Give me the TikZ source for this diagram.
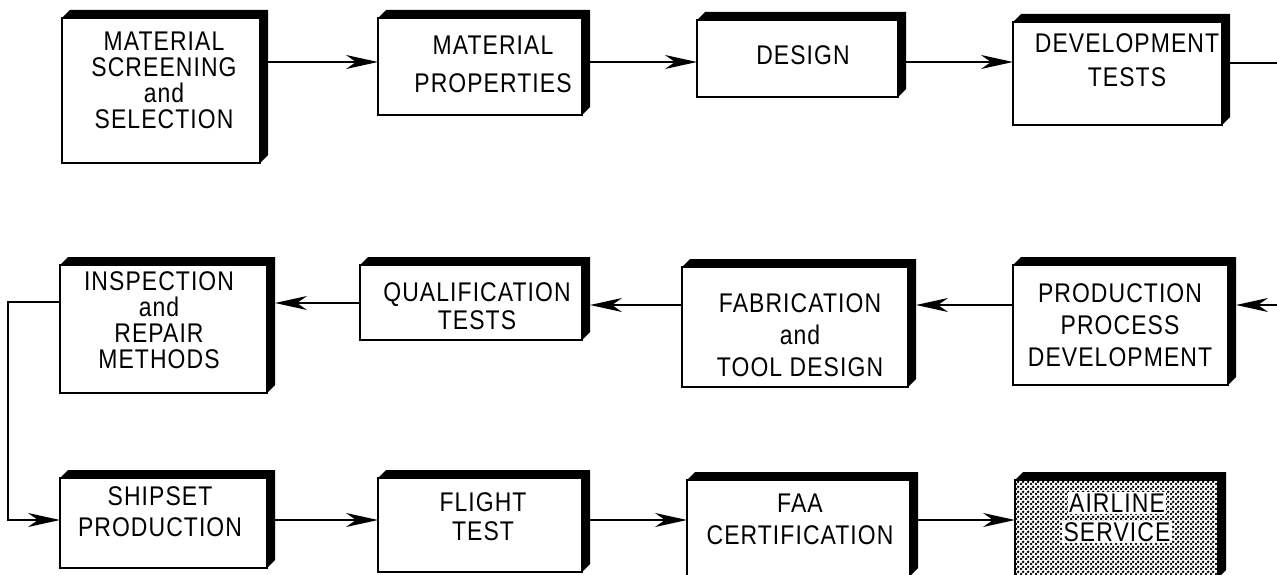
\documentclass[tikz,border=0pt]{standalone}
\usepackage{fontspec}
\setmainfont{Liberation Sans}[FakeStretch=0.85,LetterSpace=4]
\usetikzlibrary{arrows.meta,patterns,calc}
\pgfdeclarepatternformonly{bigdots}{\pgfqpoint{0pt}{0pt}}{\pgfqpoint{5pt}{5pt}}{\pgfqpoint{5pt}{5pt}}{%
  \pgfpathcircle{\pgfqpoint{1.25pt}{1.25pt}}{1.65pt}%
  \pgfpathcircle{\pgfqpoint{3.75pt}{3.75pt}}{1.65pt}%
  \pgfusepath{fill}}
\newcommand{\boxshadow}[1]{\fill (#1.north west) -- ++(8,-8) -- ([shift={(8,-8)}]#1.north east) -- ([shift={(8,-8)}]#1.south east) -- (#1.south east) -- (#1.north east) -- cycle;}
\begin{document}
\begin{tikzpicture}[x=1pt,y=-1pt,
  box/.style={draw, line width=1.5pt, fill=white, inner sep=0pt, outer sep=0pt},
  txt/.style={align=center, inner sep=0pt, font=\fontsize{27}{24}\selectfont},
  arr/.style={line width=1.5pt, -{Stealth[length=32pt,width=14pt,inset=10pt]}},
  ln/.style={line width=1.5pt}]
\useasboundingbox (0,0) rectangle (1277,575);
% row 1
\node[box, minimum width=198pt, minimum height=145pt] (b1) at (161,90.5) {};
\node[box, minimum width=204pt, minimum height=97pt] (b2) at (480,66.5) {};
\node[box, minimum width=201pt, minimum height=77pt] (b3) at (797.5,58.5) {};
\node[box, minimum width=209pt, minimum height=103pt] (b4) at (1117.5,73.5) {};
% row 2
\node[box, minimum width=215pt, minimum height=120pt] (b5) at (1120.5,325) {};
\node[box, minimum width=226pt, minimum height=120pt] (b6) at (795,327) {};
\node[box, minimum width=222pt, minimum height=75pt] (b7) at (471,302.5) {};
\node[box, minimum width=207pt, minimum height=128pt] (b8) at (163.5,329) {};
% row 3
\node[box, minimum width=207pt, minimum height=90pt] (b9) at (163.5,523) {};
\node[box, minimum width=204pt, minimum height=94pt] (b10) at (480,525) {};
\node[box, minimum width=223pt, minimum height=96pt] (b11) at (798.5,528) {};
\node[box, pattern=bigdots, minimum width=203pt, minimum height=98pt] (b12) at (1116.5,529) {};
\foreach \b in {b1,b2,b3,b4,b5,b6,b7,b8,b9,b10,b11,b12} {\boxshadow{\b}}
% texts
\node[txt] (t1) at (164,80) {MATERIAL\\[2pt]SCREENING\\[2pt]and\\[2pt]SELECTION};
\node[txt] (t2) at (493,64) {MATERIAL\\[14pt]PROPERTIES};
\node[txt] (t3) at (803,55) {DESIGN};
\node[txt] (t4) at (1127,60) {DEVELOPMENT\\[10pt]TESTS};
\node[txt] (t5) at (1120,325) {PRODUCTION\\[8pt]PROCESS\\[8pt]DEVELOPMENT};
\node[txt] (t6) at (800,335) {FABRICATION\\[8pt]and\\[8pt]TOOL DESIGN};
\node[txt] (t7) at (477,306) {QUALIFICATION\\[4pt]TESTS};
\node[txt] (t8) at (159,320) {INSPECTION\\[2pt]and\\[2pt]REPAIR\\[2pt]METHODS};
\node[txt] (t9) at (160,512) {SHIPSET\\[7pt]PRODUCTION};
\node[txt] (t10) at (483,517) {FLIGHT\\[5pt]TEST};
\node[txt] (t11) at (800,519) {FAA\\[8pt]CERTIFICATION};
\node[txt, fill=white, inner sep=1.5pt] (t12a) at (1117,503) {AIRLINE};
\node[txt, fill=white, inner sep=1.5pt] (t12b) at (1117,532) {SERVICE};
% arrow levels
\coordinate (r1) at (0,62);
\coordinate (r2) at (0,305);
\coordinate (r2b) at (0,303);
\coordinate (r3) at (0,520);
\coordinate (outR) at (1277,63);
\coordinate (inR) at (1277,305);
\coordinate (lc1) at (8,302);
\coordinate (lc2) at (8,520);
% connectors
\draw[arr] ([xshift=8pt]b1.east |- r1) -- (b2.west |- r1);
\draw[arr] ([xshift=8pt]b2.east |- r1) -- (b3.west |- r1);
\draw[arr] ([xshift=8pt]b3.east |- r1) -- (b4.west |- r1);
\draw[ln] ([xshift=8pt]b4.east |- outR) -- (outR);
\draw[arr] (inR) -- ([xshift=8pt]b5.east |- inR);
\draw[arr] (b5.west |- r2) -- ([xshift=8pt]b6.east |- r2);
\draw[arr] (b6.west |- r2) -- ([xshift=8pt]b7.east |- r2);
\draw[arr] (b7.west |- r2b) -- ([xshift=8pt]b8.east |- r2b);
\draw[arr] (b8.west |- lc1) -- (lc1) -- (lc2) -- (b9.west |- lc2);
\draw[arr] ([xshift=8pt]b9.east |- r3) -- (b10.west |- r3);
\draw[arr] ([xshift=8pt]b10.east |- r3) -- (b11.west |- r3);
\draw[arr] ([xshift=8pt]b11.east |- r3) -- (b12.west |- r3);
\end{tikzpicture}
\end{document}
